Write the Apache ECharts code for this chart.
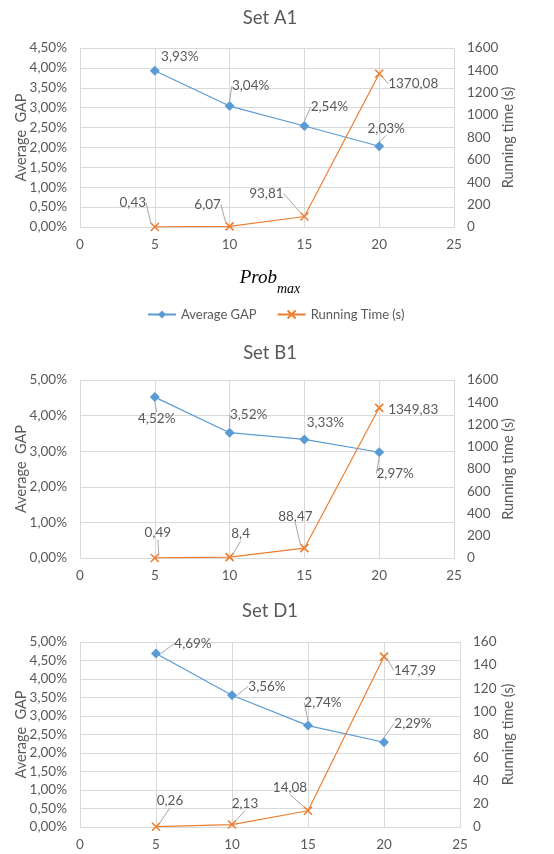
<!DOCTYPE html>
<html>
<head>
<meta charset="utf-8">
<script src="https://cdn.jsdelivr.net/npm/echarts@6/dist/echarts.min.js"></script>
<style>
  html, body { margin: 0; background: #fff; }
  #chart { width: 554px; height: 854px; }
</style>
</head>
<body>
<div id="chart"></div>
<script>
const probMax = [5, 10, 15, 20]

const gapA1 = [3.93, 3.04, 2.54, 2.03]
const timeA1 = [0.43, 6.07, 93.81, 1370.08]
const gapB1 = [4.52, 3.52, 3.33, 2.97]
const timeB1 = [0.49, 8.4, 88.47, 1349.83]
const gapD1 = [4.69, 3.56, 2.74, 2.29]
const timeD1 = [0.26, 2.13, 14.08, 147.39]

const BLUE = '#5b9bd5'
const ORANGE = '#ed7d31'
const TEXT = '#595959'
const GRID = '#d9d9d9'
const FONT = 'Lato, "Open Sans", sans-serif'
const TICK_SIZE = 13.5

// label offsets (dx, dy) from each point, and whether a leader line is drawn
const panels = [
  {
    title: 'Set A1', titleTop: 4, gap: gapA1, time: timeA1,
    grid: { left: 80, top: 48, width: 374, height: 179 },
    gapMax: 4.5, gapStep: 0.5, timeMax: 1600, timeStep: 200, rightGap: 47,
    gapOff: [[25, -14], [21, -20], [25, -19], [7, -18]],
    gapLine: [false, true, true, true],
    timeOff: [[-22, -24], [-22, -22], [-38, -23], [34, 10]],
    timeLine: [true, true, true, true],
  },
  {
    title: 'Set B1', titleTop: 339, gap: gapB1, time: timeB1,
    grid: { left: 80, top: 380, width: 374, height: 178 },
    gapMax: 5, gapStep: 1, timeMax: 1600, timeStep: 200, rightGap: 47,
    gapOff: [[2, 22], [19, -18], [21, -17], [16, 21]],
    gapLine: [true, true, false, true],
    timeOff: [[3, -25], [11, -23], [-9, -32], [34, 2]],
    timeLine: [true, true, true, false],
  },
  {
    title: 'Set D1', titleTop: 597, gap: gapD1, time: timeD1,
    grid: { left: 80, top: 642, width: 380, height: 185 },
    gapMax: 5, gapStep: 0.5, timeMax: 160, timeStep: 20, rightGap: 41,
    gapOff: [[37, -10], [35, -9], [15, -23], [29, -19]],
    gapLine: [true, true, true, true],
    timeOff: [[14, -26], [13, -21], [-18, -23], [31, 14]],
    timeLine: [true, true, true, true],
  },
]

const pct = (v) => v.toFixed(2).replace('.', ',') + '%'
const num = (v) => String(v).replace('.', ',')

function lineSeries(name, axisIdx, yIdx, values, color, symbol, size, offsets, lines, fmt) {
  return {
    name,
    type: 'line',
    xAxisIndex: axisIdx,
    yAxisIndex: yIdx,
    data: probMax.map((x, i) => ({ value: [x, values[i]], labelLine: { show: lines[i] } })),
    symbol,
    symbolSize: size,
    lineStyle: { color, width: 1.2 },
    itemStyle: { color, borderColor: color, borderWidth: symbol.startsWith('path') ? 1.6 : 0 },
    label: {
      show: true,
      position: 'inside',
      formatter: (p) => fmt(p.value[1]),
      color: TEXT,
      fontSize: TICK_SIZE,
      fontFamily: FONT,
    },
    labelLine: { show: true, lineStyle: { color: '#a6a6a6', width: 1 } },
    labelLayout: (p) => ({ dx: offsets[p.dataIndex][0], dy: offsets[p.dataIndex][1] }),
  }
}

const grid = [], xAxis = [], yAxis = [], series = [], title = []

panels.forEach((pn, k) => {
  grid.push({ ...pn.grid, outerBoundsMode: 'none', containLabel: false })
  title.push({
    text: pn.title, left: 265, top: pn.titleTop, textAlign: 'center',
    textStyle: { fontSize: 18.5, fontWeight: 'normal', color: TEXT, fontFamily: FONT },
  })
  xAxis.push({
    type: 'value', gridIndex: k, min: 0, max: 25, interval: 5,
    axisLine: { show: true, lineStyle: { color: GRID } },
    axisTick: { show: false },
    axisLabel: { color: TEXT, fontSize: TICK_SIZE, fontFamily: FONT, margin: 11 },
    splitLine: { show: true, lineStyle: { color: GRID } },
  })
  yAxis.push({
    type: 'value', gridIndex: k, min: 0, max: pn.gapMax, interval: pn.gapStep,
    name: 'Average  GAP', nameLocation: 'middle', nameGap: 51, nameMoveOverlap: false,
    nameTextStyle: { color: TEXT, fontSize: 14.5, fontFamily: FONT },
    axisLine: { show: false }, axisTick: { show: false },
    axisLabel: { color: TEXT, fontSize: TICK_SIZE, fontFamily: FONT, margin: 13, formatter: pct },
    splitLine: { show: true, lineStyle: { color: GRID } },
  })
  yAxis.push({
    type: 'value', gridIndex: k, position: 'right', min: 0, max: pn.timeMax, interval: pn.timeStep,
    name: 'Running time (s)', nameLocation: 'middle', nameGap: pn.rightGap, nameRotate: 90,
    nameMoveOverlap: false,
    nameTextStyle: { color: TEXT, fontSize: 14.5, fontFamily: FONT },
    axisLine: { show: true, lineStyle: { color: GRID } }, axisTick: { show: false },
    axisLabel: { color: TEXT, fontSize: TICK_SIZE, fontFamily: FONT, margin: 13, formatter: (v) => String(v) },
    splitLine: { show: false },
  })
  series.push(lineSeries('Average GAP', k, 2 * k, pn.gap, BLUE, 'diamond', 10, pn.gapOff, pn.gapLine, pct))
  series.push(lineSeries('Running Time (s)', k, 2 * k + 1, pn.time, ORANGE,
    'path://M0,0L10,10M10,0L0,10', 8, pn.timeOff, pn.timeLine, num))
})

title.push({
  text: '{a|Prob}{b|max}', left: 265, top: 263, textAlign: 'center',
  textStyle: {
    fontWeight: 'normal',
    rich: {
      a: { fontSize: 19, fontStyle: 'italic', fontWeight: 'normal', fontFamily: '"Liberation Serif", serif', color: '#000', lineHeight: 20, verticalAlign: 'top' },
      b: { fontSize: 14, fontStyle: 'italic', fontWeight: 'normal', fontFamily: '"Liberation Serif", serif', color: '#000', lineHeight: 28, verticalAlign: 'bottom' },
    },
  },
})

const chart = echarts.init(document.getElementById('chart'))
chart.setOption({
  animation: false,
  backgroundColor: '#fff',
  title,
  legend: {
    data: ['Average GAP', 'Running Time (s)'],
    top: 303, left: 142, itemWidth: 28, itemHeight: 10, itemGap: 20,
    textStyle: { color: TEXT, fontSize: 13, fontFamily: FONT },
  },
  grid,
  xAxis,
  yAxis,
  series,
})
</script>
</body>
</html>
